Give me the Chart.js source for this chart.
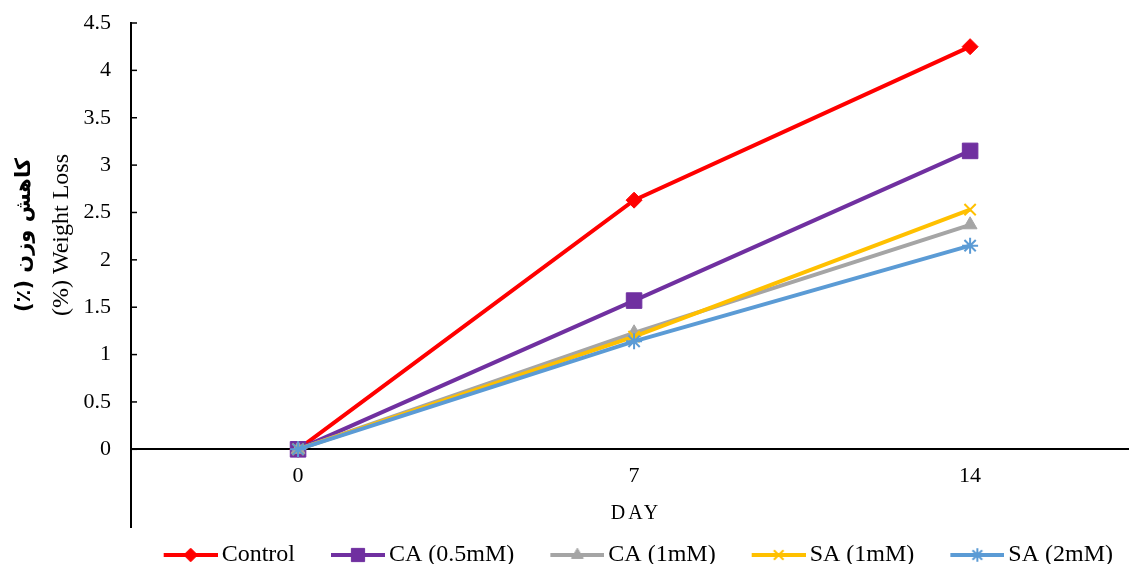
<!DOCTYPE html>
<html>
<head>
<meta charset="utf-8">
<script src="https://cdn.jsdelivr.net/npm/chart.js@4/dist/chart.umd.min.js"></script>
<style>
  html, body { margin: 0; padding: 0; background: #fff; }
  #wrap { width: 1129px; height: 564px; }
</style>
</head>
<body>
<div id="wrap"><canvas id="lossChart"></canvas></div>
<script>
// data
var days = [0, 7, 14];
var seriesNames = ['Control', 'CA (0.5mM)', 'CA (1mM)', 'SA (1mM)', 'SA (2mM)'];
var control = [0, 2.63, 4.25];
var ca05 = [0, 1.57, 3.15];
var ca1 = [0, 1.23, 2.37];
var sa1 = [0, 1.19, 2.53];
var sa2 = [0, 1.14, 2.15];
var colors = ['#FF0000', '#7030A0', '#A5A5A5', '#FFC000', '#5B9BD5'];
var markers = ['rectRot', 'rect', 'triangle', 'crossRot', 'star'];
var markerSizes = [8, 11, 8, 8, 8];

var serif = '"Liberation Serif", "Times New Roman", serif';

// legend sample: a short line with the marker on it
var sampleW = 82;
function legendSample(i) {
    var c = document.createElement('canvas');
    c.width = sampleW;
    c.height = 22;
    var g = c.getContext('2d');
    g.strokeStyle = colors[i];
    g.lineWidth = 4;
    g.beginPath();
    g.moveTo(sampleW - 54, 11);
    g.lineTo(sampleW, 11);
    g.stroke();
    g.fillStyle = colors[i];
    g.strokeStyle = colors[i];
    g.lineWidth = (i >= 3) ? 2 : 1;
    Chart.helpers.drawPoint(g, {
        pointStyle: markers[i],
        radius: markerSizes[i] * 0.85,
        rotation: 0,
        borderWidth: g.lineWidth
    }, sampleW - 27, 11);
    return c;
}

var axisDecor = {
    id: 'axisDecor',
    afterDraw: function (chart) {
        var ctx = chart.ctx;
        var y = chart.scales.y;
        var area = chart.chartArea;
        ctx.save();
        // inward tick marks on the value axis
        ctx.strokeStyle = '#000';
        ctx.lineWidth = 1.5;
        y.ticks.forEach(function (t) {
            if (t.value < 0) return;
            var py = y.getPixelForValue(t.value);
            ctx.beginPath();
            ctx.moveTo(area.left, py);
            ctx.lineTo(area.left + 6, py);
            ctx.stroke();
        });
        // value axis titles
        ctx.fillStyle = '#000';
        ctx.textAlign = 'center';
        ctx.textBaseline = 'middle';
        ctx.translate(25, 235);
        ctx.rotate(-Math.PI / 2);
        ctx.direction = 'rtl';
        ctx.font = 'bold 21px "DejaVu Sans", "Noto Sans", sans-serif';
        ctx.fillText('کاهش وزن (٪)', 0, 0);
        ctx.direction = 'ltr';
        ctx.font = '24px ' + serif;
        ctx.fillText('(%) Weight Loss', 0, 37);
        ctx.restore();
        // category axis title
        ctx.save();
        ctx.fillStyle = '#000';
        ctx.font = '20px ' + serif;
        ctx.letterSpacing = '3px';
        ctx.textAlign = 'center';
        ctx.textBaseline = 'middle';
        ctx.fillText('DAY', 636, 514);
        ctx.restore();
    }
};

var values = [control, ca05, ca1, sa1, sa2];
var datasets = values.map(function (v, i) {
    return {
        label: seriesNames[i],
        data: v.map(function (val, k) { return { x: days[k], y: val }; }),
        borderColor: colors[i],
        backgroundColor: colors[i],
        borderWidth: 4,
        tension: 0,
        pointStyle: markers[i],
        pointRadius: markerSizes[i],
        pointHoverRadius: markerSizes[i],
        pointBorderWidth: (i >= 3) ? 2 : 1,
        order: 5 - i
    };
});

window.onload = function () {
    var ctx = document.getElementById('lossChart').getContext('2d');
    var lossChart = new Chart(ctx, {
        type: 'line',
        data: {
            datasets: datasets
        },
        options: {
            responsive: true,
            maintainAspectRatio: false,
            animation: false,
            layout: {
                autoPadding: false,
                padding: { top: 23, right: 0, bottom: -13, left: 0 }
            },
            scales: {
                x: {
                    type: 'linear',
                    position: { y: 0 },
                    min: -3.48,
                    max: 17.31,
                    grid: { display: false, drawTicks: false },
                    border: { display: true, color: '#000', width: 2 },
                    afterBuildTicks: function (s) {
                        s.ticks = days.map(function (d) { return { value: d }; });
                    },
                    afterFit: function (s) { s.paddingLeft = 0; s.paddingRight = 0; },
                    ticks: {
                        color: '#000',
                        padding: 14,
                        font: { size: 22, family: serif }
                    }
                },
                y: {
                    min: -0.82,
                    max: 4.5,
                    grid: { display: false, drawTicks: false },
                    border: { display: true, color: '#000', width: 2 },
                    afterFit: function (s) {
                        s.width = 131;
                        s.paddingTop = 0;
                        s.paddingBottom = 0;
                    },
                    ticks: {
                        stepSize: 0.5,
                        color: '#000',
                        padding: 20,
                        font: { size: 22, family: serif },
                        callback: function (v) {
                            if (v < 0) return null;
                            return Math.round(v * 10) / 10;
                        }
                    }
                }
            },
            plugins: {
                legend: {
                    position: 'bottom',
                    align: 'end',
                    labels: {
                        color: '#000',
                        padding: 16,
                        usePointStyle: true,
                        pointStyleWidth: 66,
                        font: { size: 24, family: serif },
                        generateLabels: function (chart) {
                            return chart.data.datasets.map(function (ds, i) {
                                return {
                                    text: ds.label,
                                    pointStyle: legendSample(i),
                                    fillStyle: colors[i],
                                    strokeStyle: colors[i],
                                    lineWidth: 0,
                                    fontColor: '#000',
                                    hidden: false,
                                    datasetIndex: i
                                };
                            });
                        }
                    }
                },
                tooltip: { enabled: false }
            }
        },
        plugins: [axisDecor]
    });
};
</script>
</body>
</html>
